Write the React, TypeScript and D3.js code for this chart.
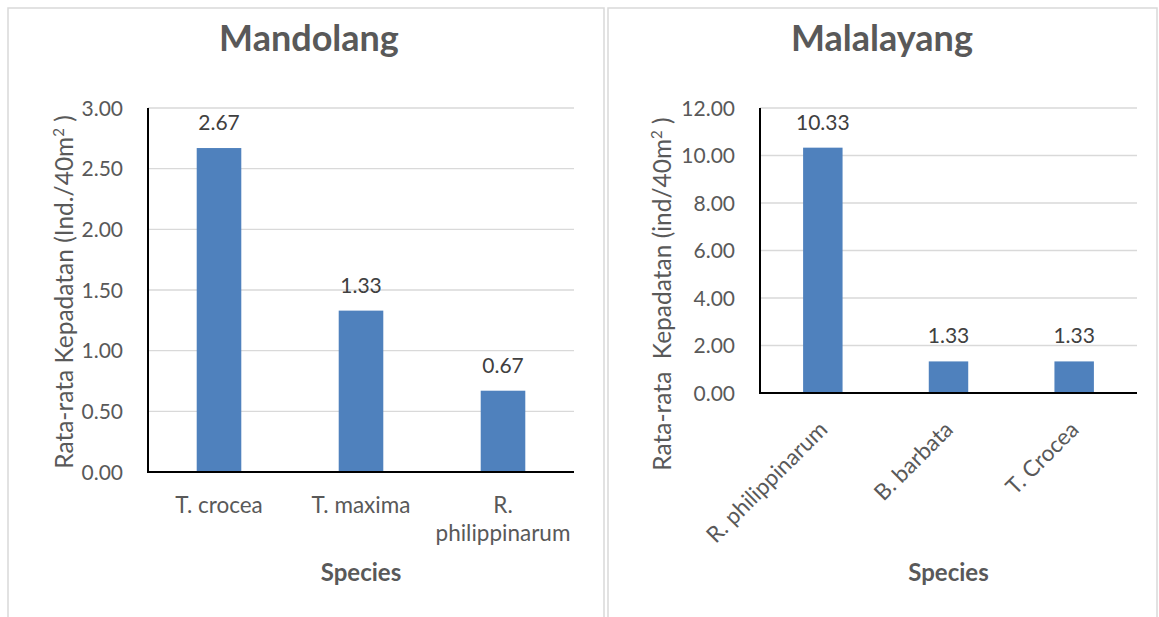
import React, { useEffect, useRef } from 'react';
import * as d3 from 'd3';

// Mandolang panel
const mandolangSpecies = ['T. crocea', 'T. maxima', 'R. philippinarum'];
const mandolangValues = [2.67, 1.33, 0.67];
const mandolangTicks = [0, 0.5, 1, 1.5, 2, 2.5, 3];

// Malalayang panel
const malalayangSpecies = ['R. philippinarum', 'B. barbata', 'T. Crocea'];
const malalayangValues = [10.33, 1.33, 1.33];
const malalayangTicks = [0, 2, 4, 6, 8, 10, 12];

const WIDTH = 1159;
const HEIGHT = 617;
const FONT = 'Lato, "Noto Sans", sans-serif';
const TEXT = '#595959';
const GRID = '#d9d9d9';
const BAR = '#4f81bd';

interface PanelCfg {
  box: [number, number, number, number];
  title: string;
  titleX: number;
  plot: { x0: number; x1: number; y0: number; y1: number };
  species: string[];
  values: number[];
  ticks: number[];
  yTitle: string;
  yTitleX: number;
  yTitleY: number;
  rotated: boolean;
}

const App: React.FC = () => {
  const svgRef = useRef<SVGSVGElement>(null);

  useEffect(() => {
    if (!svgRef.current) return;
    const svg = d3.select(svgRef.current);
    svg.selectAll('*').remove();

    const drawPanel = (cfg: PanelCfg) => {
      const g = svg.append('g');
      const [bx, by, bw, bh] = cfg.box;
      g.append('rect')
        .attr('x', bx).attr('y', by).attr('width', bw).attr('height', bh)
        .attr('fill', '#fff').attr('stroke', GRID).attr('stroke-width', 1.5);

      g.append('text')
        .attr('x', cfg.titleX).attr('y', 51)
        .attr('text-anchor', 'middle')
        .attr('font-family', FONT).attr('font-weight', 700)
        .attr('font-size', 36).attr('fill', TEXT)
        .text(cfg.title);

      const { x0, x1, y0, y1 } = cfg.plot;
      const x = d3.scaleBand<string>().domain(cfg.species).range([x0, x1]).paddingInner(0.686).paddingOuter(0.343);
      const yMax = cfg.ticks[cfg.ticks.length - 1];
      const y = d3.scaleLinear().domain([0, yMax]).range([y1, y0]);

      // gridlines
      g.selectAll('.grid')
        .data(cfg.ticks.filter(t => t > 0))
        .join('line')
        .attr('x1', x0).attr('x2', x1)
        .attr('y1', d => y(d)).attr('y2', d => y(d))
        .attr('stroke', GRID).attr('stroke-width', 1.3);

      // y tick labels
      g.selectAll('.ytick')
        .data(cfg.ticks)
        .join('text')
        .attr('x', x0 - 25)
        .attr('y', d => y(d) + 7.5)
        .attr('text-anchor', 'end')
        .attr('font-family', FONT).attr('font-size', 21).attr('fill', TEXT)
        .text(d => d.toFixed(2));

      // bars
      g.selectAll('.bar')
        .data(cfg.values)
        .join('rect')
        .attr('x', (d, i) => x(cfg.species[i])!)
        .attr('width', x.bandwidth())
        .attr('y', d => y(d))
        .attr('height', d => y1 - y(d))
        .attr('fill', BAR);

      // value labels
      g.selectAll('.val')
        .data(cfg.values)
        .join('text')
        .attr('x', (d, i) => x(cfg.species[i])! + x.bandwidth() / 2)
        .attr('y', d => y(d) - 18)
        .attr('text-anchor', 'middle')
        .attr('font-family', FONT).attr('font-size', 21).attr('fill', '#404040')
        .text(d => d.toFixed(2));

      // axes lines
      g.append('line').attr('x1', x0).attr('x2', x0).attr('y1', y0).attr('y2', y1 + 1)
        .attr('stroke', '#000').attr('stroke-width', 2);
      g.append('line').attr('x1', x0 - 1).attr('x2', x1).attr('y1', y1).attr('y2', y1)
        .attr('stroke', '#000').attr('stroke-width', 2);

      // x labels
      cfg.species.forEach(s => {
        const cx = x(s)! + x.bandwidth() / 2;
        if (cfg.rotated) {
          g.append('text')
            .attr('transform', `translate(${cx + 6},${y1 + 38}) rotate(-45)`)
            .attr('text-anchor', 'end')
            .attr('font-family', FONT).attr('font-size', 22.5).attr('fill', TEXT)
            .text(s);
        } else {
          const words = s.length > 12 ? s.split(' ') : [s];
          words.forEach((w, k) => {
            g.append('text')
              .attr('x', cx).attr('y', y1 + 41 + k * 28)
              .attr('text-anchor', 'middle')
              .attr('font-family', FONT).attr('font-size', 22.5).attr('fill', TEXT)
              .text(w);
          });
        }
      });

      // x title
      g.append('text')
        .attr('x', (x0 + x1) / 2).attr('y', 581)
        .attr('text-anchor', 'middle')
        .attr('font-family', FONT).attr('font-weight', 700)
        .attr('font-size', 24).attr('fill', TEXT)
        .text('Species');

      // y title
      const yt = g.append('text')
        .attr('transform', `translate(${cfg.yTitleX},${cfg.yTitleY}) rotate(-90)`)
        .attr('text-anchor', 'middle')
        .attr('font-family', FONT).attr('font-size', 24.5).attr('fill', TEXT)
        .attr('xml:space', 'preserve');
      yt.append('tspan').text(cfg.yTitle);
      yt.append('tspan').attr('dy', -9).attr('font-size', 15).text('2');
      yt.append('tspan').attr('dy', 9).text(' )');
    };

    drawPanel({
      box: [8, 8, 596, 640],
      title: 'Mandolang',
      titleX: 309,
      plot: { x0: 148, x1: 574, y0: 108, y1: 472 },
      species: mandolangSpecies,
      values: mandolangValues,
      ticks: mandolangTicks,
      yTitle: 'Rata-rata Kepadatan (Ind./40m',
      yTitleX: 73,
      yTitleY: 292,
      rotated: false,
    });

    drawPanel({
      box: [608, 8, 549, 640],
      title: 'Malalayang',
      titleX: 882,
      plot: { x0: 760, x1: 1137, y0: 108, y1: 393 },
      species: malalayangSpecies,
      values: malalayangValues,
      ticks: malalayangTicks,
      yTitle: 'Rata-rata  Kepadatan (ind/40m',
      yTitleX: 671,
      yTitleY: 294,
      rotated: true,
    });
  }, []);

  return (
    <div style={{ position: 'absolute', left: 0, top: 0, width: WIDTH, height: HEIGHT, overflow: 'hidden', background: '#fff' }}>
      <svg ref={svgRef} width={WIDTH} height={HEIGHT} style={{ display: 'block' }} />
    </div>
  );
};

export default App;
